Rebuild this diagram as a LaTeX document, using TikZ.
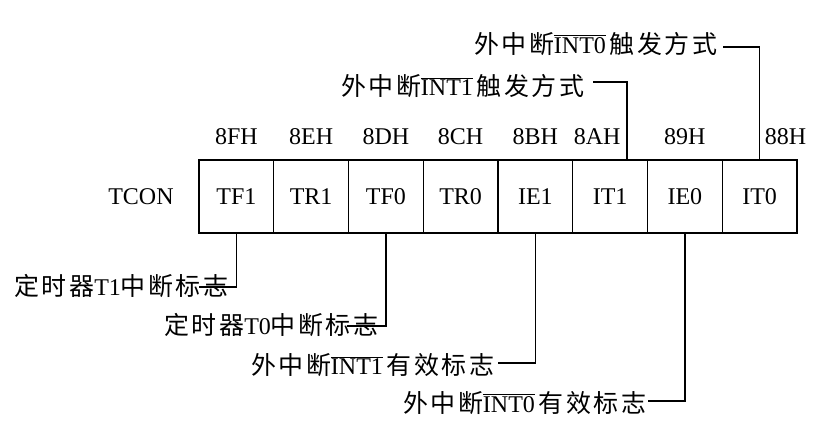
\documentclass[tikz,border=0pt]{standalone}
\usepackage{fontspec}
\setmainfont{Liberation Serif}
\newfontfamily\cjk[Scale=1.04,LetterSpace=10]{Noto Sans CJK SC}
\newcommand\zh[1]{{\cjk #1}}
\newcommand\ovl[1]{$\overline{\mbox{#1}}$}
\usetikzlibrary{positioning}

\begin{document}
\begin{tikzpicture}[x=1pt,y=-1pt,font=\fontsize{24}{27}\selectfont,line width=1.4pt,
  bitcell/.style={draw,minimum width=74.75pt,minimum height=73pt,inner sep=0pt},
  addr/.style={inner sep=0pt},
  lab/.style={inner sep=0pt,anchor=base east}]
\useasboundingbox (0,0) rectangle (825,431);
% register cells and bit addresses
\foreach \n/\t/\a/\d [count=\i from 0] in {tf1/TF1/8FH/0,tr1/TR1/8EH/0,tf0/TF0/8DH/0,tr0/TR0/8CH/0,ie1/IE1/8BH/0,it1/IT1/8AH/-13,ie0/IE0/89H/0,it0/IT0/88H/26}{
  \node[bitcell] (\n) at (236.4+74.75*\i,196.5) {\t};
  \node[addr,above=14pt of \n,xshift=\d pt] (a\n) {\a};
}
\node[inner sep=0pt,left=24pt of tf1] (reg) {TCON};
% flag labels below
\coordinate (e1) at (199,287);
\coordinate (e2) at (347,326);
\coordinate (e3) at (498,363);
\coordinate (e4) at (648,401);
\node[lab] (l1) at (229,295) {\zh{定时器}T1\zh{中断标志}};
\node[lab] (l2) at (379,334) {\zh{定时器}T0\zh{中断标志}};
\node[lab] (l3) at (495,374) {\zh{外中断}\ovl{INT1}\,\zh{有效标志}};
\node[lab] (l4) at (647,412) {\zh{外中断}\ovl{INT0}\,\zh{有效标志}};
\draw (tf1.south) |- (e1);
\draw (tf0.south) |- (e2);
\draw (ie1.south) |- (e3);
\draw (ie0.south) |- (e4);
% trigger labels above
\coordinate (e5) at (593,82);
\coordinate (e6) at (723,47);
\node[lab] (l5) at (585,95) {\zh{外中断}\ovl{INT1}\,\zh{触发方式}};
\node[lab] (l6) at (718,53) {\zh{外中断}\ovl{INT0}\,\zh{触发方式}};
\draw ([xshift=17pt]it1.north) |- (e5);
\draw (it0.north) |- (e6);
\end{tikzpicture}
\end{document}
